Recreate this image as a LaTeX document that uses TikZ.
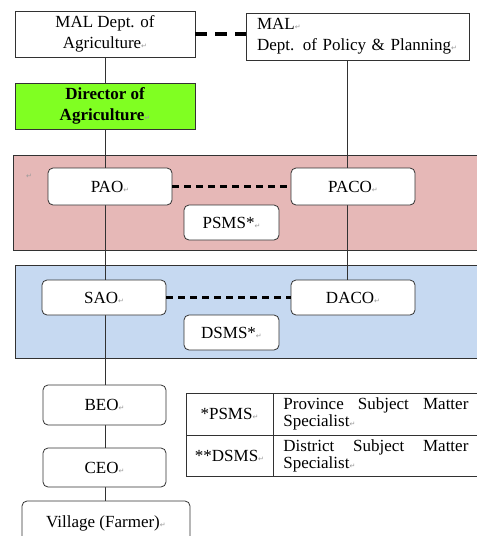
\documentclass[tikz,border=0pt]{standalone}
\usepackage{fontspec}
\setmainfont{Liberation Serif}
\newfontfamily\markfont{DejaVu Sans}
\usepackage{tikz}
\usetikzlibrary{arrows}

\definecolor{dirgreen}{RGB}{128,255,34}
\definecolor{provpink}{RGB}{230,184,183}
\definecolor{distblue}{RGB}{198,217,241}
\definecolor{boxline}{RGB}{50,50,50}
\newcommand{\retmark}{{\markfont\fontsize{7}{7}\selectfont\color{gray!80}↵}}

\pgfdeclarelayer{bands}
\pgfdeclarelayer{lines}
\pgfsetlayers{bands,lines,main}

\begin{document}
\begin{tikzpicture}[x=1pt,y=-1pt,font=\fontsize{17}{21}\selectfont]
      \tikzstyle{box}=[draw=boxline,line width=0.8pt,fill=white,inner sep=0pt,align=center]
      \tikzstyle{rbox}=[box,rounded corners=5pt]
      \tikzstyle{cell}=[draw=boxline,line width=0.8pt,inner sep=0pt,font=\fontsize{17}{17}\selectfont]
      \tikzstyle{band}=[draw=boxline,line width=0.8pt,inner sep=0pt]

      \useasboundingbox (0,0) rectangle (477,536);
      \clip (0,0) rectangle (477,536);

      \node[box,minimum width=180pt,minimum height=46pt] (agri) at (105,34) {MAL Dept. of\\Agriculture\retmark};
      \node[box,text width=201pt,inner xsep=11pt,minimum height=47pt,align=left] (policy) at (357.5,36.5) {MAL\retmark\\Dept. of Policy \& Planning\retmark};
      \node[box,fill=dirgreen,minimum width=180pt,minimum height=46pt,font=\fontsize{17}{21}\selectfont\bfseries] (dir) at (105,106) {Director of\\Agriculture\retmark};

      \node[rbox,minimum width=124pt,minimum height=37pt] (pao) at (110,186.5) {PAO\retmark};
      \node[rbox,minimum width=124pt,minimum height=37pt] (paco) at (353,186.5) {PACO\retmark};
      \node[rbox,minimum width=95pt,minimum height=35pt] (psms) at (231.5,222.5) {PSMS*\retmark};

      \node[rbox,minimum width=124pt,minimum height=35pt] (sao) at (104,297.5) {SAO\retmark};
      \node[rbox,minimum width=124pt,minimum height=35pt] (daco) at (353,297.5) {DACO\retmark};
      \node[rbox,minimum width=95pt,minimum height=35pt] (dsms) at (231.5,332.5) {DSMS*\retmark};

      \node[rbox,minimum width=123pt,minimum height=40pt] (beo) at (104.5,405) {BEO\retmark};
      \node[rbox,minimum width=123pt,minimum height=39pt] (ceo) at (104.5,467.5) {CEO\retmark};
      \node[rbox,minimum width=168pt,minimum height=45pt] (village) at (106,523.5) {Village (Farmer)\retmark};

      \node[cell,minimum width=87pt,minimum height=42pt] (psmskey) at (229.5,414) {*PSMS\retmark};
      \node[cell,anchor=west,text width=185pt,inner xsep=10pt,minimum height=42pt,align=left] (psmsdef) at (273,414) {Province\hfill Subject\hfill Matter\\Specialist\retmark};
      \node[cell,minimum width=87pt,minimum height=41pt] (dsmskey) at (229.5,455.5) {**DSMS\retmark};
      \node[cell,anchor=west,text width=185pt,inner xsep=10pt,minimum height=41pt,align=left] (dsmsdef) at (273,455.5) {District\hfill Subject\hfill Matter\\Specialist\retmark};

      \begin{pgfonlayer}{bands}
      \node[band,fill=provpink,minimum width=480pt,minimum height=95pt,anchor=north west] (prov) at (13,155) {};
      \node[band,fill=distblue,minimum width=480pt,minimum height=93pt,anchor=north west] (dist) at (15,265) {};
      \end{pgfonlayer}
      \node (provmark) at (29,176) {\retmark};

      \coordinate (lx) at (105,0);
      \coordinate (rx) at (347,0);

      \begin{pgfonlayer}{lines}
      \draw[boxline,line width=0.8pt] (agri.south -| lx) -- (village.north -| lx);
      \draw[boxline,line width=0.8pt] (policy.south -| rx) -- (daco.north -| rx);
      \end{pgfonlayer}

      \draw[black,line width=3.2pt,dash pattern=on 12pt off 8pt] (agri.east) -- (agri.east -| policy.west);
      \draw[black,line width=2.3pt,dash pattern=on 7pt off 5pt] (pao.east) -- (paco.west);
      \draw[black,line width=2.3pt,dash pattern=on 7pt off 5pt] (sao.east) -- (daco.west);

    \end{tikzpicture}
\end{document}
